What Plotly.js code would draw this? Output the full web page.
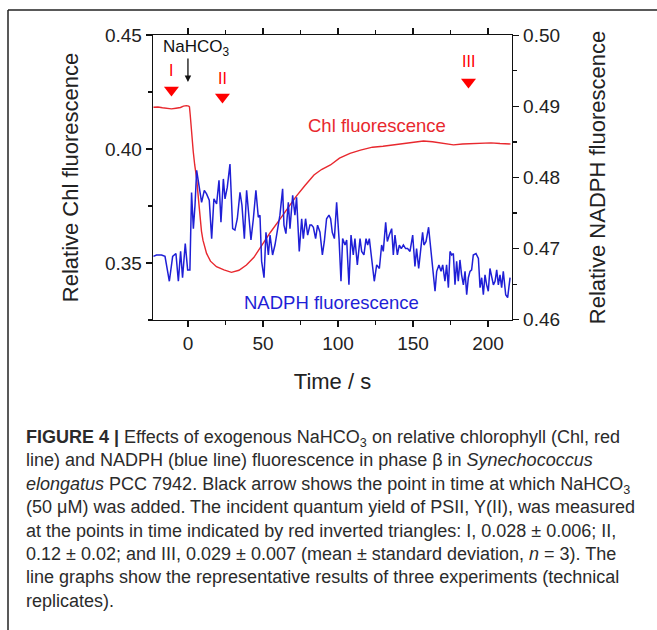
<!DOCTYPE html>
<html>
<head>
<meta charset="utf-8">
<script src="https://cdn.plot.ly/plotly-3.0.1.min.js"></script>
<style>
html,body{margin:0;padding:0;background:#fff;}
#chart{width:657px;height:630px;}
</style>
</head>
<body>
<div id="chart"></div>
<script>
// ---- Data ----
const chlTime = [-23,-20,-17,-14,-11,-8,-5,-3,-1,0.5,1.0,1.5,2.5,3.5,4.5,5.8,7,8,9,10,11,12.4,15,19,24,29,34,39,44,50,55,61,66,72,78,84,89,95,101,108,115,123,130,137,143,150,157,163,168,173,177,183,190,196,202,208,215];
const chlValue = [0.4183,0.4184,0.4181,0.4178,0.4176,0.4179,0.4182,0.4188,0.4190,0.4188,0.4185,0.4150,0.4060,0.3990,0.3930,0.3870,0.3780,0.3700,0.3640,0.3600,0.3570,0.3542,0.3508,0.3484,0.3470,0.3459,0.3468,0.3491,0.3525,0.3586,0.3635,0.3689,0.3735,0.3791,0.3840,0.3886,0.3910,0.3930,0.3960,0.3981,0.3995,0.4008,0.4012,0.4018,0.4025,0.4032,0.4035,0.4032,0.4028,0.4022,0.4018,0.4022,0.4025,0.4026,0.4027,0.4024,0.4022];

const nadphTime = [-23,-21,-17.6,-15.3,-12.4,-10.2,-8.0,-6.4,-4.9,-3.6,-1.8,-0.2,1.3,2.4,3.6,4.7,5.8,7.6,9.1,10.9,12.4,14.2,15.8,17.3,19.1,20.7,22.0,23.6,24.7,26.2,28.0,29.8,31.3,32.9,34.7,36.0,37.6,39.1,40.7,42.0,43.6,45.3,46.9,48.0,49.1,50.7,52.0,53.6,54.7,56.4,58.0,59.6,61.3,63.1,64.0,65.3,66.9,68.0,69.8,71.3,72.4,74.2,75.8,76.9,78.4,79.8,81.3,82.4,83.6,85.1,86.4,88.0,89.6,90.9,92.4,94.0,95.1,96.2,97.6,99.1,100.7,102.0,103.1,104.7,105.8,107.3,108.7,110.2,111.3,112.9,114.7,115.8,117.3,118.7,119.8,120.9,122.4,124.2,125.8,127.6,129.1,130.2,131.8,132.9,134.2,135.8,136.9,138.0,139.6,140.9,142.2,143.6,145.1,146.4,148.0,149.8,151.3,152.4,153.8,155.1,156.4,157.3,158.7,160.4,161.8,163.1,164.7,165.8,167.3,168.7,169.8,171.3,172.4,173.6,174.7,175.8,176.9,178.0,179.1,180.2,181.3,182.4,183.6,184.7,185.8,186.9,188.0,189.1,190.2,192.0,193.6,194.7,195.8,196.9,198.0,199.1,200.2,201.3,202.4,203.6,204.7,205.8,206.9,208.0,209.1,210.2,211.8,213.1,214.7];
const nadphValue = [0.4689,0.4691,0.4691,0.4689,0.4654,0.4689,0.4693,0.4654,0.4696,0.4659,0.4707,0.4670,0.4670,0.4779,0.4728,0.4761,0.4810,0.4784,0.4765,0.4782,0.4777,0.4768,0.4714,0.4770,0.4763,0.4796,0.4737,0.4798,0.4770,0.4786,0.4819,0.4728,0.4726,0.4742,0.4779,0.4761,0.4714,0.4782,0.4744,0.4712,0.4742,0.4782,0.4744,0.4747,0.4682,0.4659,0.4723,0.4691,0.4719,0.4691,0.4705,0.4728,0.4747,0.4784,0.4733,0.4721,0.4765,0.4728,0.4775,0.4747,0.4772,0.4696,0.4742,0.4714,0.4742,0.4719,0.4733,0.4733,0.4730,0.4714,0.4733,0.4723,0.4691,0.4710,0.4742,0.4747,0.4742,0.4723,0.4714,0.4765,0.4714,0.4654,0.4714,0.4705,0.4712,0.4649,0.4719,0.4691,0.4714,0.4677,0.4714,0.4696,0.4691,0.4714,0.4705,0.4714,0.4686,0.4654,0.4677,0.4672,0.4705,0.4696,0.4737,0.4710,0.4719,0.4728,0.4691,0.4719,0.4691,0.4705,0.4700,0.4705,0.4700,0.4700,0.4696,0.4719,0.4675,0.4700,0.4672,0.4696,0.4723,0.4705,0.4710,0.4730,0.4700,0.4677,0.4640,0.4668,0.4677,0.4668,0.4677,0.4654,0.4677,0.4645,0.4696,0.4691,0.4693,0.4649,0.4682,0.4654,0.4684,0.4663,0.4649,0.4668,0.4635,0.4659,0.4668,0.4670,0.4691,0.4693,0.4686,0.4645,0.4659,0.4635,0.4663,0.4649,0.4640,0.4672,0.4659,0.4649,0.4654,0.4670,0.4649,0.4663,0.4645,0.4668,0.4635,0.4631,0.4659];

// Measurement points (red inverted triangles) and their labels
const markTime = [-11, 23, 187];
const markLevel = [0.4259, 0.4228, 0.4294];
const markLabel = ['I', 'II', 'III'];
const additionTime = 0;  // NaHCO3 added

const xTickVals = [0, 50, 100, 150, 200];
const yTickVals = [0.35, 0.40, 0.45];
const y2TickVals = [0.46, 0.47, 0.48, 0.49, 0.50];

// ---- Layout helpers (pixel -> paper) ----
const L = 153, R = 512, T = 35, B = 320;
const px = v => (v - L) / (R - L);
const py = v => (B - v) / (B - T);

const FONT = 'Liberation Sans, Arial, Helvetica, sans-serif';
const RED = '#e8282e';
const BLUE = '#1f1fd6';

const traces = [
  {x: chlTime, y: chlValue, type: 'scatter', mode: 'lines', yaxis: 'y',
   line: {color: RED, width: 1.4}, hoverinfo: 'skip'},
  {x: nadphTime, y: nadphValue, type: 'scatter', mode: 'lines', yaxis: 'y2',
   line: {color: BLUE, width: 1.5}, hoverinfo: 'skip'},
  {x: markTime, y: markLevel, type: 'scatter', mode: 'markers', yaxis: 'y',
   marker: {symbol: 'triangle-down', size: 13, color: '#ff0000'}, cliponaxis: false, hoverinfo: 'skip'}
];

const annotations = [
  {xref: 'x', yref: 'y', x: 126, y: 0.4105, text: 'Chl fluorescence', showarrow: false,
   xanchor: 'center', yanchor: 'middle', font: {family: FONT, size: 18.5, color: RED}},
  {xref: 'x', yref: 'y', x: 96, y: 0.3325, text: 'NADPH fluorescence', showarrow: false,
   xanchor: 'center', yanchor: 'middle', font: {family: FONT, size: 18.5, color: BLUE}},
  {xref: 'paper', yref: 'paper', x: px(196), y: py(48), text: 'NaHCO<sub>3</sub>', showarrow: false,
   xanchor: 'center', yanchor: 'middle', font: {family: FONT, size: 17, color: '#111'}},
  {xref: 'x', yref: 'y', x: additionTime, y: 0.4294, text: '', showarrow: true, ax: 0, ay: -25,
   arrowhead: 2, arrowsize: 1, arrowwidth: 1.3, arrowcolor: '#111', standoff: 0}
];
const labelLevel = [0.4346, 0.4311, 0.4382];
markTime.forEach((t, i) => {
  annotations.push({xref: 'x', yref: 'y', x: t, y: labelLevel[i], text: markLabel[i], showarrow: false,
    xanchor: 'center', yanchor: 'middle', font: {family: FONT, size: 16, color: '#ff0000'}});
});

const caption = [
  '<b>FIGURE 4 |</b> Effects of exogenous NaHCO<sub>3</sub> on relative chlorophyll (Chl, red',
  'line) and NADPH (blue line) fluorescence in phase β in <i>Synechococcus</i>',
  '<i>elongatus</i> PCC 7942. Black arrow shows the point in time at which NaHCO<sub>3</sub>',
  '(50 μM) was added. The incident quantum yield of PSII, Y(II), was measured',
  'at the points in time indicated by red inverted triangles: I, 0.028 ± 0.006; II,',
  '0.12 ± 0.02; and III, 0.029 ± 0.007 (mean ± standard deviation, <i>n</i> = 3). The',
  'line graphs show the representative results of three experiments (technical',
  'replicates).'
];
annotations.push({xref: 'paper', yref: 'paper', x: px(24), y: py(425), xanchor: 'left', yanchor: 'top',
  align: 'left', showarrow: false, text: caption.join('<br>'),
  font: {family: FONT, size: 18, color: '#2b2b2b'}});

const axisCommon = {
  showline: true, linecolor: '#111', linewidth: 1.3, ticks: 'outside', ticklen: 6, tickwidth: 1.2,
  tickcolor: '#111', showgrid: false, zeroline: false,
  tickfont: {family: FONT, size: 19, color: '#222'}
};

const layout = {
  width: 657, height: 630,
  margin: {l: L, r: 657 - R, t: T, b: 630 - B},
  paper_bgcolor: '#ffffff', plot_bgcolor: '#ffffff',
  showlegend: false,
  xaxis: Object.assign({}, axisCommon, {
    range: [-23.3, 216], tickvals: xTickVals, mirror: 'ticks',
    minor: {dtick: 25, tick0: 0, ticks: 'outside', ticklen: 4, tickcolor: '#111', tickwidth: 1.2},
    title: {text: 'Time / s', font: {family: FONT, size: 22, color: '#222'}, standoff: 20}
  }),
  yaxis: Object.assign({}, axisCommon, {
    range: [0.325, 0.45], tickvals: yTickVals, tickformat: '.2f',
    minor: {dtick: 0.025, tick0: 0.325, ticks: 'outside', ticklen: 4, tickcolor: '#111', tickwidth: 1.2},
    title: {text: 'Relative Chl fluorescence', font: {family: FONT, size: 22, color: '#222'}, standoff: 20}
  }),
  yaxis2: Object.assign({}, axisCommon, {
    overlaying: 'y', side: 'right', range: [0.45995, 0.50005], tickvals: y2TickVals, tickformat: '.2f',
    minor: {dtick: 0.005, tick0: 0.46, ticks: 'outside', ticklen: 4, tickcolor: '#111', tickwidth: 1.2},
    title: {text: 'Relative NADPH fluorescence', font: {family: FONT, size: 22, color: '#222'}, standoff: 30}
  }),
  annotations: annotations,
  shapes: [
    {type: 'line', xref: 'paper', yref: 'paper', x0: px(8), x1: px(657), y0: py(10), y1: py(10),
     line: {color: '#222', width: 1.5}},
    {type: 'line', xref: 'paper', yref: 'paper', x0: px(8), x1: px(8), y0: py(10), y1: py(630),
     line: {color: '#222', width: 1.5}}
  ]
};

Plotly.newPlot('chart', traces, layout, {displayModeBar: false, staticPlot: true});
</script>
</body>
</html>
